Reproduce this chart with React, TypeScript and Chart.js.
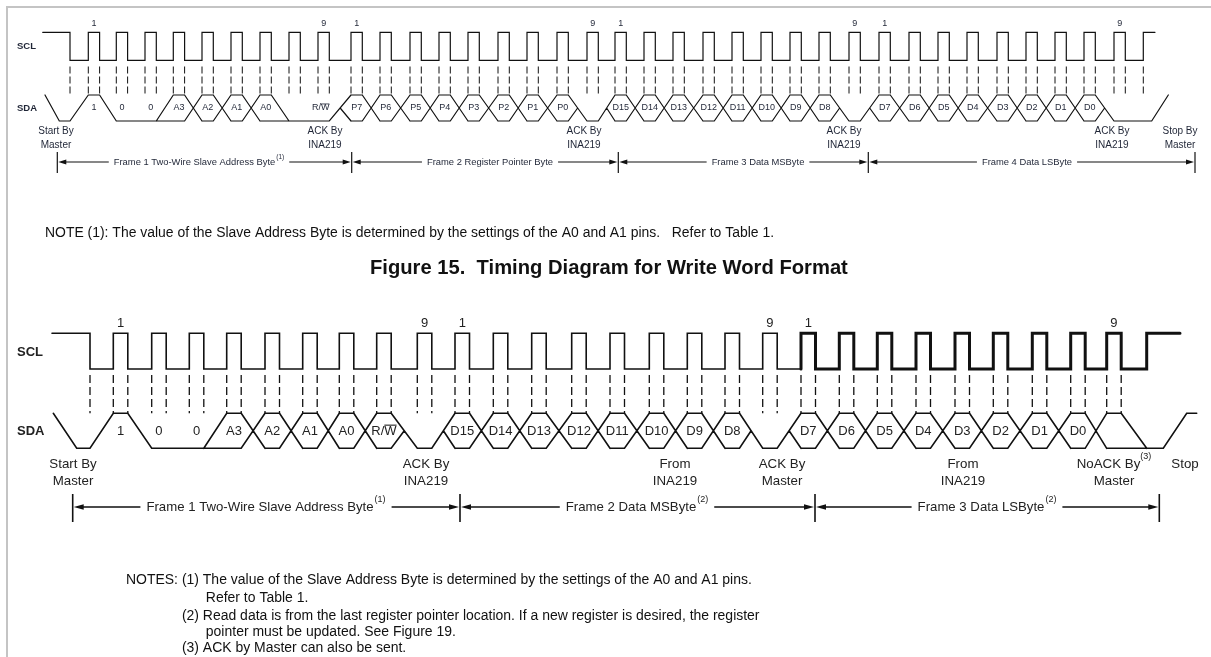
import { useEffect, useRef } from "react";
import { Chart, registerables } from "chart.js";

Chart.register(...registerables);

// ===================== DATA =====================
// Figure 15 – write word format: time of every SCL rising edge (4 frames x 9 clocks)
const writeClockRises = [
  88.3, 116.3, 145, 173.3, 202, 231, 260, 289, 318,
  351, 380, 410, 439, 468, 498, 527, 557, 587,
  615, 644, 673, 703, 732, 761, 790, 819, 849,
  879, 909, 938, 967, 997, 1026, 1055, 1084, 1114,
];
const writeBitLabels = [
  "1", "0", "0", "A3", "A2", "A1", "A0", "R/W", "",
  "P7", "P6", "P5", "P4", "P3", "P2", "P1", "P0", "",
  "D15", "D14", "D13", "D12", "D11", "D10", "D9", "D8", "",
  "D7", "D6", "D5", "D4", "D3", "D2", "D1", "D0", "",
];
// H = high, L = low, V = either (data), A = acknowledge (low from receiver)
const writeBitKinds = ["HLLVVVVLA", "VVVVVVVVA", "VVVVVVVVA", "VVVVVVVVA"].join("");
const writeSclBegin = 42.7;
const writeStartSda = [45, 59.3];
const writeFirstFall = 70;
const writeStopScl = [1143.3, 1155];
const writeStopSda = [1151.7, 1168.3];
const writeCaptions = [
  ["Start By", "Master"], ["ACK By", "INA219"], ["ACK By", "INA219"],
  ["ACK By", "INA219"], ["ACK By", "INA219"], ["Stop By", "Master"],
];
const writeCaptionTimes = [56, 325, 584, 844, 1112, 1180];
const writeCaptionMarks = ["", "", "", "", "", ""];
const writeFrameNames = [
  "Frame 1 Two-Wire Slave Address Byte", "Frame 2 Register Pointer Byte",
  "Frame 3 Data MSByte", "Frame 4 Data LSByte",
];
const writeFrameMarks = ["(1)", "", "", ""];
const writeFrameEdges = [57.3, 351.7, 618.3, 868.3, 1195];
const writeFrameNameCenters = [199, 490, 758, 1027];

// Read word format: time of every SCL rising edge (3 frames x 9 clocks)
const readClockRises = [
  113.3, 151.7, 189.3, 226.7, 265, 302.7, 339.3, 376.7, 417.3,
  455, 493.3, 531.7, 571.7, 610, 649.3, 687.3, 725, 762.7,
  801, 839.3, 877.3, 916, 955, 993.3, 1032.3, 1070.7, 1106.7,
];
const readBitLabels = [
  "1", "0", "0", "A3", "A2", "A1", "A0", "R/W", "",
  "D15", "D14", "D13", "D12", "D11", "D10", "D9", "D8", "",
  "D7", "D6", "D5", "D4", "D3", "D2", "D1", "D0", "",
];
const readBitKinds = ["HLLVVVVVA", "VVVVVVVVA", "VVVVVVVVV"].join("");
const readSclBegin = 52;
const readStartSda = [53.3, 76.7];
const readFirstFall = 90;
const readStopScl = [1146.7, 1180];
const readStopSda = [1163.3, 1186.7, 1196.7];
const readCaptions = [
  ["Start By", "Master"], ["ACK By", "INA219"], ["From", "INA219"],
  ["ACK By", "Master"], ["From", "INA219"], ["NoACK By", "Master"], ["Stop"],
];
const readCaptionTimes = [73, 426, 675, 782, 963, 1114, 1185];
const readCaptionMarks = ["", "", "", "", "", "(3)", ""];
const readFrameNames = [
  "Frame 1 Two-Wire Slave Address Byte", "Frame 2 Data MSByte", "Frame 3 Data LSByte",
];
const readFrameMarks = ["(1)", "(2)", "(2)"];
const readFrameEdges = [72.7, 460, 815, 1159.3];
const readFrameNameCenters = [266, 637, 987];

const clockCountMarks = ["1", "", "", "", "", "", "", "", "9"];

const writeNote =
  "NOTE (1): The value of the Slave Address Byte is determined by the settings of the A0 and A1 pins.   Refer to Table 1.";
const figureTitle = "Figure 15.  Timing Diagram for Write Word Format";
const readNotesHeading = "NOTES:";
const readNoteMarks = ["(1)", "", "(2)", "", "(3)"];
const readNoteLines = [
  "The value of the Slave Address Byte is determined by the settings of the A0 and A1 pins.",
  "Refer to Table 1.",
  "Read data is from the last register pointer location. If a new register is desired, the register",
  "pointer must be updated. See Figure 19.",
  "ACK by Master can also be sent.",
];

// ===================== LAYOUT / STYLE =====================
const W = 1211;
const H = 657;
const FONT = "'Liberation Sans', Arial, Helvetica, sans-serif";
const LINE = "#111";

const TOP = {
  sclHigh: 32.3, sclLow: 60.3, sdaHigh: 95, sdaLow: 121,
  dashFrom: 66.5, pulseWidth: 11.3, dashAtStop: true,
  countY: 24, nameX: 17, sclNameY: 46, sdaNameY: 108,
  captionY: [131, 145], frameY: 162, tickFrom: 152, tickTo: 173,
  lineWidth: 1.2, dash: [7, 3], dashWidth: 1,
  font: 9, countFont: 9, captionFont: 10, frameFont: 9.4, nameFont: 9.5, supFont: 6.5,
  arrowLen: 8, arrowHalf: 2.4, gap: 5, rwShift: 26, color: "#1f2536",
};
const BOT = {
  sclHigh: 333.3, sclLow: 369, sdaHigh: 413.3, sdaLow: 448.3,
  dashFrom: 375, pulseWidth: 14.5, dashAtStop: false,
  countY: 323, nameX: 17, sclNameY: 352, sdaNameY: 431,
  captionY: [464, 481], frameY: 507, tickFrom: 494, tickTo: 522,
  lineWidth: 1.6, dash: [8, 4], dashWidth: 1.3,
  font: 13, countFont: 13, captionFont: 13.3, frameFont: 13.2, nameFont: 13, supFont: 9,
  arrowLen: 10, arrowHalf: 2.8, gap: 6, rwShift: 0, color: "#222",
};

type P = { x: number; y: number | null };
type Lay = typeof TOP;

function chain(segs: number[][]): P[] {
  const out: P[] = [];
  let lx = NaN;
  let ly = NaN;
  for (const [x1, y1, x2, y2] of segs) {
    if (!(Math.abs(x1 - lx) < 0.01 && Math.abs(y1 - ly) < 0.01)) {
      if (out.length) out.push({ x: x1, y: null });
      out.push({ x: x1, y: y1 });
    }
    out.push({ x: x2, y: y2 });
    lx = x2;
    ly = y2;
  }
  return out;
}

function sclPoints(L: Lay, begin: number, firstFall: number, rises: number[], stop: number[]): P[] {
  const hi = L.sclHigh, lo = L.sclLow, w = L.pulseWidth;
  const pts: P[] = [{ x: begin, y: hi }, { x: firstFall, y: hi }, { x: firstFall, y: lo }];
  for (const r of rises) {
    pts.push({ x: r, y: lo }, { x: r, y: hi }, { x: r + w, y: hi }, { x: r + w, y: lo });
  }
  pts.push({ x: stop[0], y: lo }, { x: stop[0], y: hi }, { x: stop[1], y: hi });
  return pts;
}

function dashPoints(L: Lay, firstFall: number, rises: number[], stop: number[]): P[] {
  const edges = [firstFall];
  for (const r of rises) edges.push(r, r + L.pulseWidth);
  if (L.dashAtStop) edges.push(stop[0]);
  const out: P[] = [];
  for (const x of edges) out.push({ x, y: L.dashFrom }, { x, y: L.sdaHigh }, { x, y: null });
  return out;
}

function sdaPoints(
  L: Lay, rises: number[], kinds: string, startSda: number[], firstFall: number,
  stopScl: number[], stopSda: number[]
): P[] {
  const hi = L.sdaHigh, lo = L.sdaLow, mid = (hi + lo) / 2, w = L.pulseWidth;
  const segs: number[][] = [];
  const S = (x1: number, y1: number, x2: number, y2: number) => segs.push([x1, y1, x2, y2]);
  const lev = (k: string) => (k === "H" ? hi : lo);
  const opp = (k: string) => (k === "H" ? lo : hi);
  const trans = (a: string, b: string, t0: number, t1: number) => {
    const tm = (t0 + t1) / 2;
    if (a !== "V" && b !== "V") S(t0, lev(a), t1, lev(b));
    else if (a !== "V") {
      if (a === "A") { S(t0, lev(a), t1, opp(a)); S(tm, mid, t1, lev(a)); }
      else { S(t0, lev(a), t1, lev(a)); S(t0, lev(a), t1, opp(a)); }
    } else if (b !== "V") {
      if (b === "A") { S(t0, lev(b), tm, mid); S(t0, opp(b), t1, lev(b)); }
      else { S(t0, opp(b), t1, lev(b)); S(t0, lev(b), t1, lev(b)); }
    } else { S(t0, lo, t1, hi); S(t0, hi, t1, lo); }
  };
  const body = (k: string, r: number, f: number) => {
    if (k === "V") { S(r, hi, f, hi); S(r, lo, f, lo); }
    else S(r, lev(k), f, lev(k));
  };
  S(startSda[0], hi, startSda[1], lo);
  S(startSda[1], lo, firstFall, lo);
  let prev = "L";
  let prevEnd = firstFall;
  rises.forEach((r, i) => {
    const k = kinds[i];
    trans(prev, k, prevEnd, r);
    body(k, r, r + w);
    prev = k;
    prevEnd = r + w;
  });
  trans(prev, "L", prevEnd, stopScl[0]);
  S(stopScl[0], lo, stopSda[0], lo);
  S(stopSda[0], lo, stopSda[1], hi);
  if (stopSda.length > 2) S(stopSda[1], hi, stopSda[2], hi);
  return chain(segs);
}

function lineSet(data: P[], width: number, dash: number[] = [], cap = "round") {
  return {
    data, borderColor: LINE, borderWidth: width, borderDash: dash,
    borderCapStyle: cap, borderJoinStyle: "miter",
    pointRadius: 0, pointHoverRadius: 0, fill: false, spanGaps: false, tension: 0,
  };
}

function setFont(ctx: CanvasRenderingContext2D, size: number, bold = false) {
  ctx.font = `${bold ? "bold " : ""}${size}px ${FONT}`;
}

function put(
  ctx: CanvasRenderingContext2D, s: string, x: number, y: number, size: number,
  color: string, align: CanvasTextAlign = "center", bold = false
) {
  setFont(ctx, size, bold);
  ctx.fillStyle = color;
  ctx.textAlign = align;
  ctx.textBaseline = "middle";
  ctx.fillText(s, x, y);
}

function drawDiagram(
  ctx: CanvasRenderingContext2D, px: (v: number) => number, py: (v: number) => number,
  L: Lay, rises: number[], labels: string[], captions: string[][], capTimes: number[],
  capMarks: string[], frameNames: string[], frameMarks: string[], edges: number[], centers: number[]
) {
  const c = L.color;
  // signal names
  put(ctx, "SCL", px(L.nameX), py(L.sclNameY), L.nameFont, c, "left", true);
  put(ctx, "SDA", px(L.nameX), py(L.sdaNameY), L.nameFont, c, "left", true);
  // clock counts
  rises.forEach((r, i) => {
    const m = clockCountMarks[i % 9];
    if (m) put(ctx, m, px(r + L.pulseWidth / 2), py(L.countY), L.countFont, c);
  });
  // bit labels
  rises.forEach((r, i) => {
    const s = labels[i];
    if (!s) return;
    let x = px(r + L.pulseWidth / 2);
    if (s === "R/W") {
      x = px(r + L.pulseWidth / 2 + L.rwShift);
      put(ctx, s, x, py(L.sdaNameY), L.font, c);
      setFont(ctx, L.font);
      const tw = ctx.measureText(s).width;
      const wr = ctx.measureText("R/").width;
      const yy = py(L.sdaNameY) - L.font * 0.45;
      ctx.strokeStyle = c;
      ctx.lineWidth = L.font > 10 ? 1.1 : 0.8;
      ctx.beginPath();
      ctx.moveTo(x - tw / 2 + wr, yy);
      ctx.lineTo(x + tw / 2, yy);
      ctx.stroke();
    } else put(ctx, s, x, py(L.sdaNameY), L.font, c);
  });
  // captions under SDA
  captions.forEach((lines, k) => {
    const x = px(capTimes[k]);
    lines.forEach((s, j) => {
      if (j === 0 && capMarks[k]) {
        setFont(ctx, L.captionFont);
        const w1 = ctx.measureText(s).width;
        setFont(ctx, L.supFont);
        const w2 = ctx.measureText(capMarks[k]).width;
        const x0 = x - (w1 + w2) / 2;
        put(ctx, s, x0, py(L.captionY[j]), L.captionFont, c, "left");
        put(ctx, capMarks[k], x0 + w1, py(L.captionY[j]) - L.captionFont * 0.55, L.supFont, c, "left");
      } else put(ctx, s, x, py(L.captionY[j]), L.captionFont, c);
    });
  });
  // frame brackets
  ctx.strokeStyle = LINE;
  ctx.fillStyle = LINE;
  const fy = py(L.frameY);
  edges.forEach((e) => {
    ctx.lineWidth = L.lineWidth;
    ctx.beginPath();
    ctx.moveTo(px(e), py(L.tickFrom));
    ctx.lineTo(px(e), py(L.tickTo));
    ctx.stroke();
  });
  frameNames.forEach((name, k) => {
    const a = px(edges[k]) + 1;
    const b = px(edges[k + 1]) - 1;
    setFont(ctx, L.frameFont);
    const w1 = ctx.measureText(name).width;
    setFont(ctx, L.supFont);
    const w2 = frameMarks[k] ? ctx.measureText(frameMarks[k]).width + 1 : 0;
    const cx = px(centers[k]);
    const x0 = cx - (w1 + w2) / 2;
    put(ctx, name, x0, fy, L.frameFont, c, "left");
    if (frameMarks[k]) put(ctx, frameMarks[k], x0 + w1 + 1, fy - L.frameFont * 0.55, L.supFont, c, "left");
    ctx.strokeStyle = LINE;
    ctx.fillStyle = LINE;
    ctx.lineWidth = L.lineWidth * 0.9;
    ctx.beginPath();
    ctx.moveTo(a + L.arrowLen - 1, fy);
    ctx.lineTo(x0 - L.gap, fy);
    ctx.moveTo(x0 + w1 + w2 + L.gap, fy);
    ctx.lineTo(b - L.arrowLen + 1, fy);
    ctx.stroke();
    ctx.beginPath();
    ctx.moveTo(a, fy);
    ctx.lineTo(a + L.arrowLen, fy - L.arrowHalf);
    ctx.lineTo(a + L.arrowLen, fy + L.arrowHalf);
    ctx.closePath();
    ctx.moveTo(b, fy);
    ctx.lineTo(b - L.arrowLen, fy - L.arrowHalf);
    ctx.lineTo(b - L.arrowLen, fy + L.arrowHalf);
    ctx.closePath();
    ctx.fill();
  });
}

const annotate = {
  id: "annotate",
  afterDatasetsDraw(chart: any) {
    const ctx: CanvasRenderingContext2D = chart.ctx;
    const xs = chart.scales.x;
    const ys = chart.scales.y;
    const px = (v: number) => xs.getPixelForValue(v);
    const py = (v: number) => ys.getPixelForValue(v);
    ctx.save();
    // page border
    ctx.strokeStyle = "#c4c4c4";
    ctx.lineWidth = 2;
    ctx.beginPath();
    ctx.moveTo(px(6), py(7));
    ctx.lineTo(px(W), py(7));
    ctx.moveTo(px(7), py(6));
    ctx.lineTo(px(7), py(H));
    ctx.stroke();

    drawDiagram(ctx, px, py, TOP, writeClockRises, writeBitLabels, writeCaptions, writeCaptionTimes,
      writeCaptionMarks, writeFrameNames, writeFrameMarks, writeFrameEdges, writeFrameNameCenters);
    drawDiagram(ctx, px, py, BOT, readClockRises, readBitLabels, readCaptions, readCaptionTimes,
      readCaptionMarks, readFrameNames, readFrameMarks, readFrameEdges, readFrameNameCenters);

    // note under figure 15
    setFont(ctx, 12);
    const nSize = (12 * (775 - 45)) / ctx.measureText(writeNote).width;
    put(ctx, writeNote, px(45), py(233), nSize, "#111", "left");
    // title
    setFont(ctx, 16, true);
    const tSize = (16 * (848 - 370)) / ctx.measureText(figureTitle).width;
    put(ctx, figureTitle, px(370), py(268), tSize, "#111", "left", true);
    // notes under read diagram
    setFont(ctx, 13);
    const full = `${readNotesHeading} ${readNoteMarks[0]} ${readNoteLines[0]}`;
    const rSize = (13 * (752 - 126)) / ctx.measureText(full).width;
    setFont(ctx, rSize);
    const markX = 126 + ctx.measureText(readNotesHeading + " ").width;
    const textX = markX + ctx.measureText("(1) ").width;
    const lineYs = [580, 598, 616, 632, 648];
    put(ctx, readNotesHeading, px(126), py(lineYs[0]), rSize, "#111", "left");
    readNoteLines.forEach((s, i) => {
      if (readNoteMarks[i]) put(ctx, readNoteMarks[i], px(markX), py(lineYs[i]), rSize, "#111", "left");
      put(ctx, s, px(textX + (readNoteMarks[i] ? 0 : 3)), py(lineYs[i]), rSize, "#111", "left");
    });
    ctx.restore();
  },
};

function buildChart(canvas: HTMLCanvasElement) {
  const readScl = sclPoints(BOT, readSclBegin, readFirstFall, readClockRises, readStopScl);
  const split = 3 + 18 * 4;
  const datasets: any[] = [
    lineSet(sclPoints(TOP, writeSclBegin, writeFirstFall, writeClockRises, writeStopScl), TOP.lineWidth),
    lineSet(sdaPoints(TOP, writeClockRises, writeBitKinds, writeStartSda, writeFirstFall, writeStopScl, writeStopSda), TOP.lineWidth),
    lineSet(dashPoints(TOP, writeFirstFall, writeClockRises, writeStopScl), TOP.dashWidth, TOP.dash, "butt"),
    lineSet(readScl.slice(0, split + 1), BOT.lineWidth),
    lineSet(readScl.slice(split), 3),
    lineSet(sdaPoints(BOT, readClockRises, readBitKinds, readStartSda, readFirstFall, readStopScl, readStopSda), BOT.lineWidth),
    lineSet(dashPoints(BOT, readFirstFall, readClockRises, readStopScl), BOT.dashWidth, BOT.dash, "butt"),
  ];
  return new Chart(canvas, {
    type: "line",
    data: { datasets },
    options: {
      animation: false,
      responsive: false,
      devicePixelRatio: 1,
      events: [],
      layout: { padding: 0 },
      scales: {
        x: { type: "linear", min: 0, max: W, display: false },
        y: { type: "linear", min: 0, max: H, reverse: true, display: false },
      },
      plugins: { legend: { display: false }, tooltip: { enabled: false }, title: { display: false } },
      elements: { point: { radius: 0 }, line: { tension: 0 } },
    } as any,
    plugins: [annotate],
  });
}

export default function App() {
  const ref = useRef<HTMLCanvasElement>(null);
  useEffect(() => {
    if (!ref.current) return;
    const chart = buildChart(ref.current);
    return () => chart.destroy();
  }, []);
  return (
    <div style={{ position: "absolute", left: 0, top: 0, width: W, height: H, background: "#fff" }}>
      <canvas ref={ref} width={W} height={H} style={{ display: "block", width: W, height: H }} />
    </div>
  );
}
